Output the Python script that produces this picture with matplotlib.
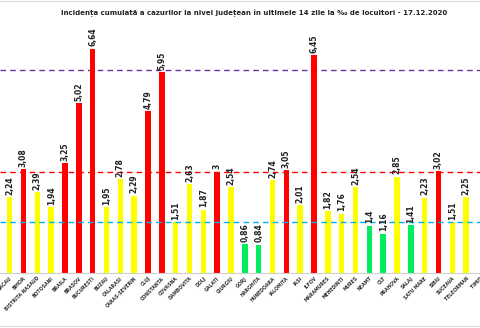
import numpy as np
import matplotlib
matplotlib.use("Agg")
import matplotlib.pyplot as plt
from matplotlib.lines import Line2D

# ---------------------------------------------------------------
# Data: cumulative incidence per county (per 1000 inhabitants)
# ---------------------------------------------------------------
judete = ['BACAU', 'BIHOR', 'BISTRITA NASAUD', 'BOTOSANI', 'BRAILA', 'BRASOV',
          'BUCURESTI', 'BUZAU', 'CALARASI', 'CARAS-SEVERIN', 'CLUJ', 'CONSTANTA',
          'COVASNA', 'DAMBOVITA', 'DOLJ', 'GALATI', 'GIURGIU', 'GORJ', 'HARGHITA',
          'HUNEDOARA', 'IALOMITA', 'IASI', 'ILFOV', 'MARAMURES', 'MEHEDINTI',
          'MURES', 'NEAMT', 'OLT', 'PRAHOVA', 'SALAJ', 'SATU MARE', 'SIBIU',
          'SUCEAVA', 'TELEORMAN', 'TIMIS']
# TIMIS is cut off at the right edge, only its label tip shows
incidenta = [2.24, 3.08, 2.39, 1.94, 3.25, 5.02, 6.64, 1.95, 2.78, 2.29, 4.79, 5.95,
             1.51, 2.63, 1.87, 3, 2.54, 0.86, 0.84, 2.74, 3.05, 2.01, 6.45, 1.82,
             1.76, 2.54, 1.4, 1.16, 2.85, 1.41, 2.23, 3.02, 1.51, 2.25]
praguri = [1.5, 3, 6]

# colour by scenario threshold
def culoare(v):
    if v >= 3:
        return '#FF0000'
    if v >= 1.5:
        return '#FFFF00'
    return '#00EE5E'

x = np.arange(len(incidenta))
colors = [culoare(v) for v in incidenta]

fig = plt.figure(figsize=(4.8, 3.28), dpi=100)
ax = fig.add_axes([0, 55 / 328, 1, 243 / 328])

ax.bar(x, incidenta, width=0.4, color=colors, zorder=2)

# threshold lines
ax.axhline(praguri[0], color='#00B0F0', ls=(0, (4, 3)), lw=1.0, zorder=3)
ax.axhline(praguri[1], color='#FF0000', ls=(0, (4, 3)), lw=1.0, zorder=1)
ax.axhline(praguri[2], color='#7030A0', ls=(0, (4, 3)), lw=1.0, zorder=1)

# value labels
for xi, v in zip(x, incidenta):
    ax.text(xi, v + 0.07, f"{v:g}".replace('.', ','), rotation=90,
            ha='center', va='bottom', fontsize=5.5, fontweight='bold', color='#222222')

ax.set_xlim(-9.8 / 14.03, (480 - 9.8) / 14.03)
ax.set_ylim(0, 243 / 33.8)
ax.set_xticks(np.arange(len(judete)))
ax.set_xticklabels(judete, rotation=45, ha='right', rotation_mode='anchor',
                   fontsize=3.3, fontweight='bold', color='#333333')
ax.tick_params(axis='x', length=0, pad=2)
ax.set_yticks([])
for s in ['top', 'left', 'right']:
    ax.spines[s].set_visible(False)
ax.spines['bottom'].set_color('#D0D0D0')
ax.spines['bottom'].set_linewidth(0.8)

fig.text(254 / 480, 1 - 13 / 328,
         'Incidența cumulată a cazurilor la nivel județean în ultimele 14 zile la ‰ de locuitori - 17.12.2020',
         ha='center', va='center', fontsize=5, fontweight='bold', color='#222222')

# light frame lines (top and bottom)
fig.add_artist(Line2D([0, 1], [1 - 1 / 328, 1 - 1 / 328], color='#D9D9D9', lw=0.8))
fig.add_artist(Line2D([0, 1], [2 / 328, 2 / 328], color='#D9D9D9', lw=0.8))

fig.savefig('out.png', dpi=100)
